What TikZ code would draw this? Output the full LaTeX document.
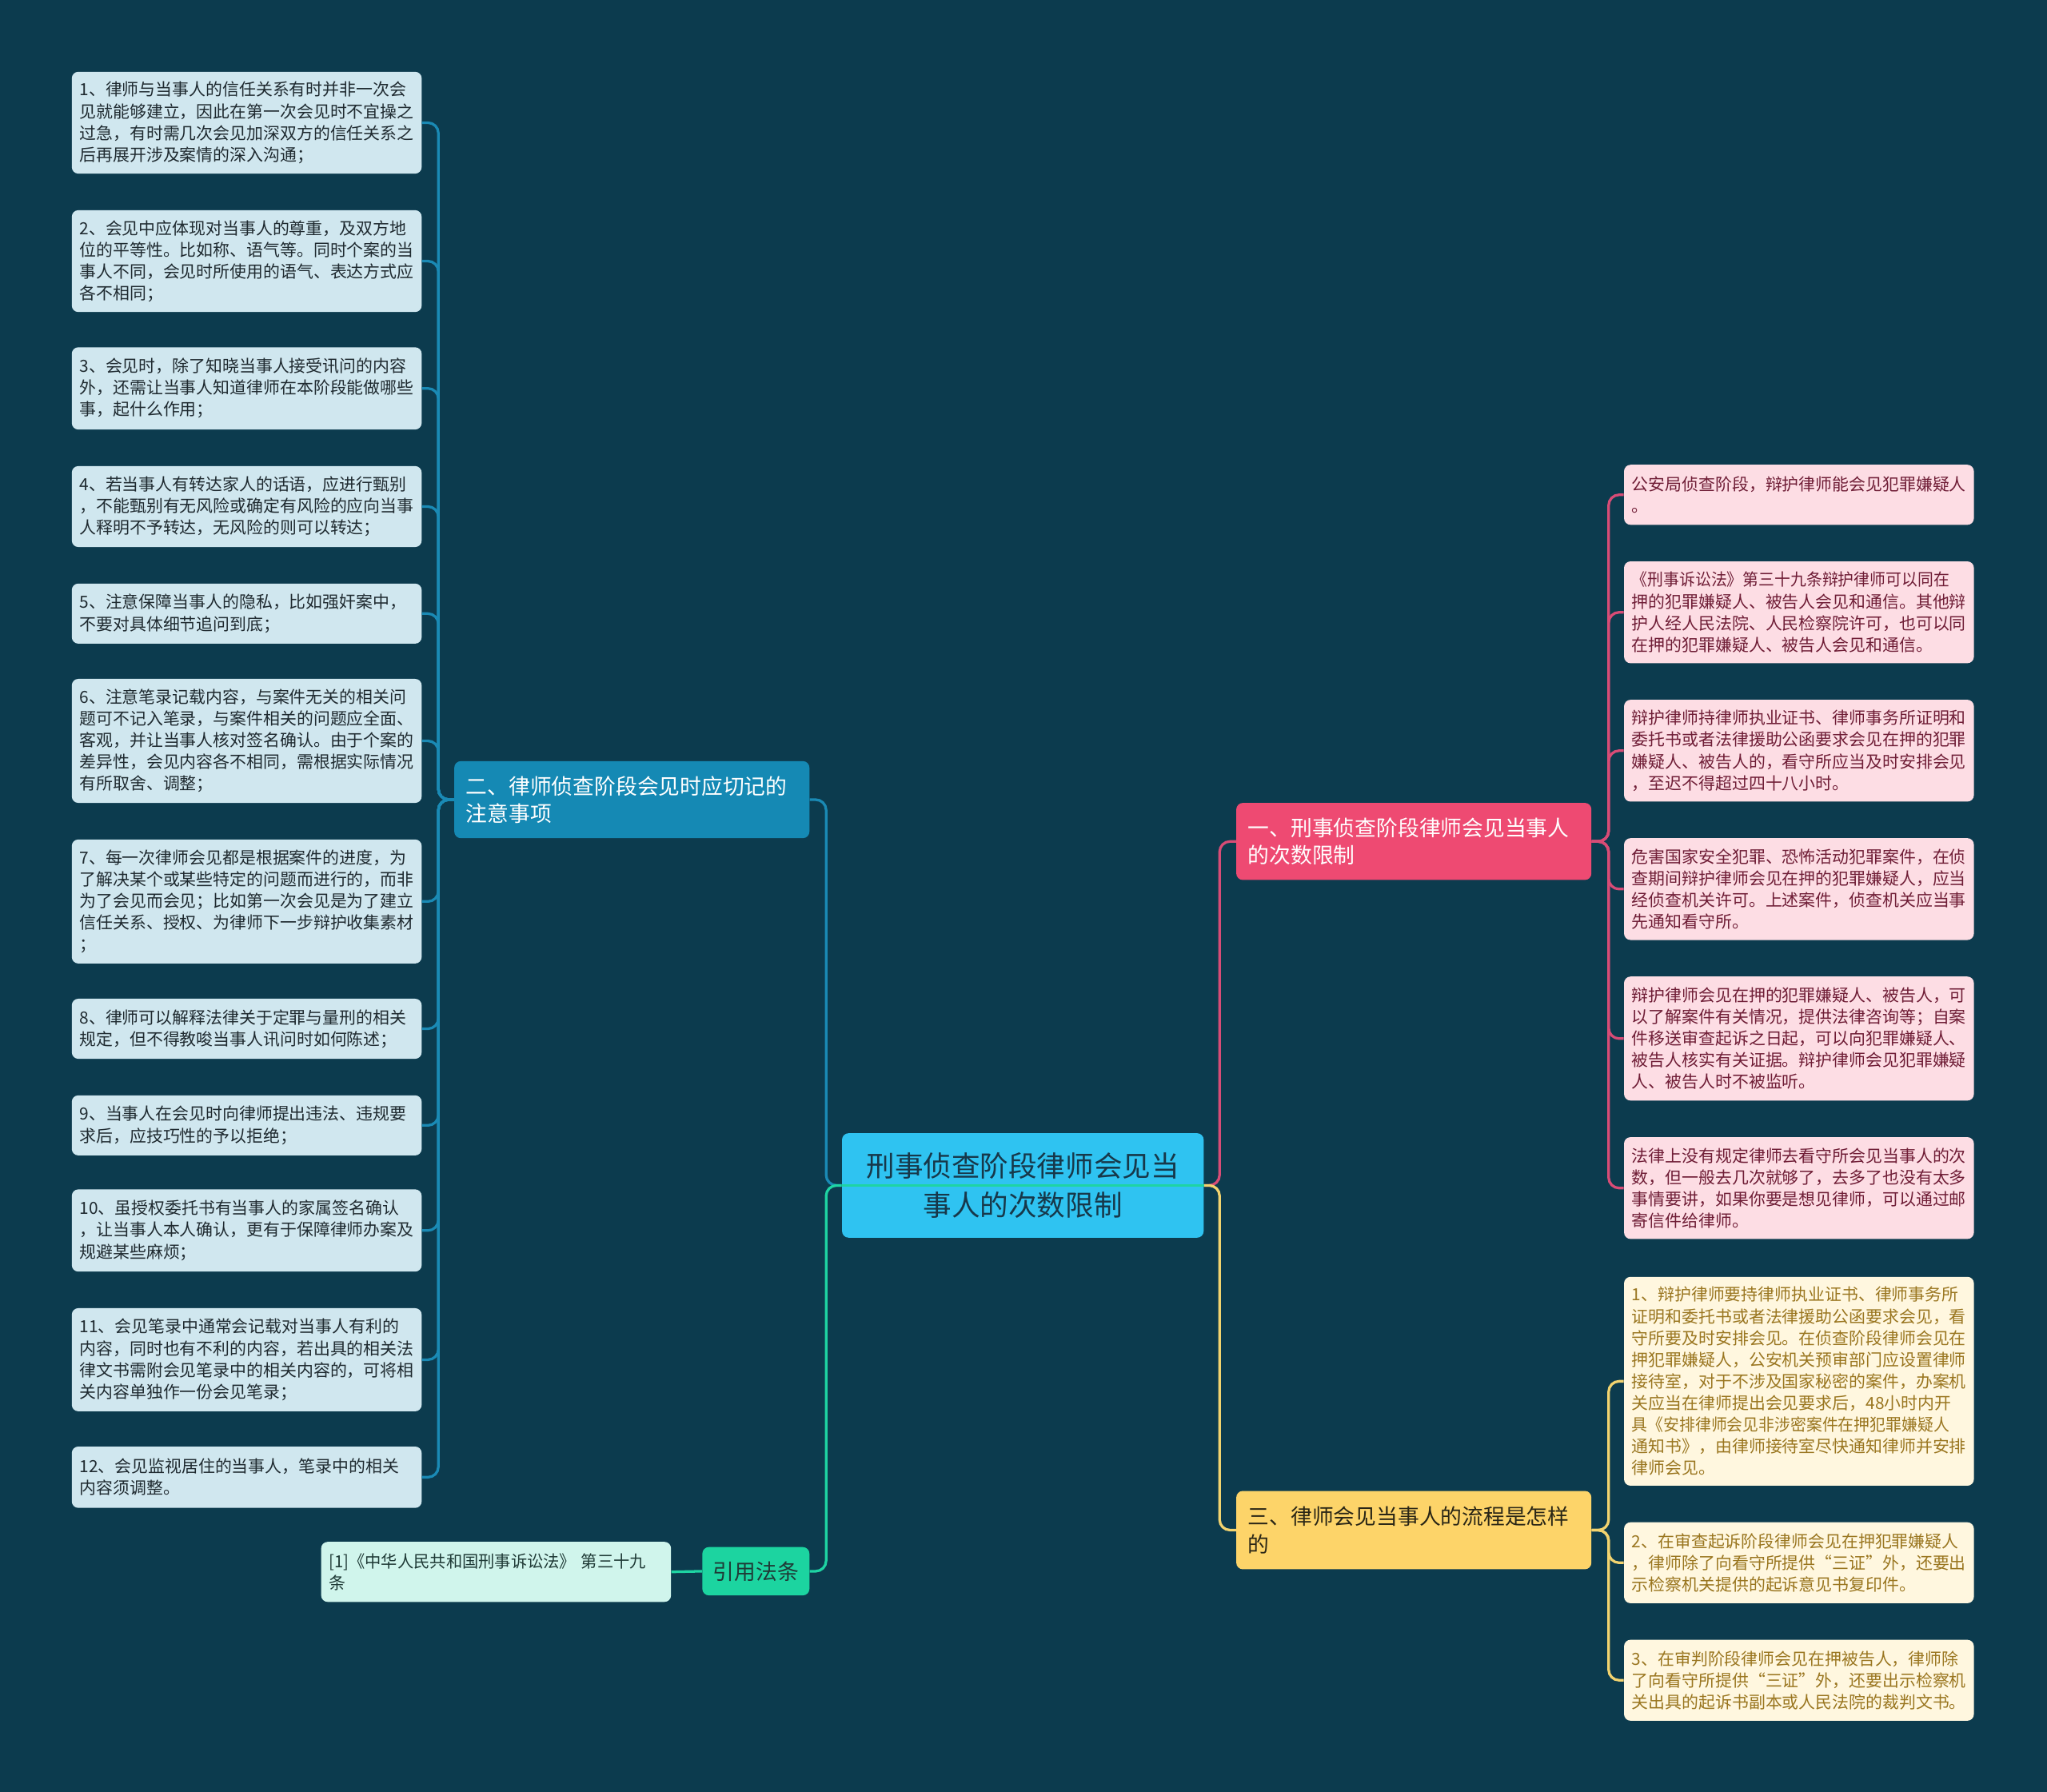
\documentclass[tikz,border=0pt]{standalone}
\usepackage{fontspec}
\setmainfont{Noto Sans CJK SC}
\usepackage{graphicx}
\definecolor{bg}{HTML}{0C3B4E}
\definecolor{centerfill}{HTML}{2FC3F1}
\definecolor{centertext}{HTML}{17384A}
\definecolor{bluefill}{HTML}{1589B4}
\definecolor{pinkfill}{HTML}{EE4A72}
\definecolor{yellowfill}{HTML}{FDD469}
\definecolor{greenfill}{HTML}{1CD4A0}
\definecolor{cblue}{HTML}{1A8AB5}
\definecolor{cpink}{HTML}{D84C76}
\definecolor{cyellow}{HTML}{F2D36F}
\definecolor{cgreen}{HTML}{1ED4A3}
\definecolor{leafblue}{HTML}{D0E7EF}
\definecolor{leafbluetext}{HTML}{1F2A30}
\definecolor{leafpink}{HTML}{FDDDE4}
\definecolor{leafpinktext}{HTML}{6F1D36}
\definecolor{leafyellow}{HTML}{FFF7DF}
\definecolor{leafyellowtext}{HTML}{9A7620}
\definecolor{leafmint}{HTML}{D0F5EC}
\definecolor{leafminttext}{HTML}{1F3A36}
\definecolor{darktext}{HTML}{2A2616}
\newcommand\myleaffont{\fontsize{12.8pt}{16.6pt}\selectfont}
\newcommand\mybranchfont{\fontsize{16.4pt}{21pt}\selectfont}
\newcommand\mycenterfont{\fontsize{21.8pt}{30pt}\selectfont}
\newcommand\sqz[1]{\scalebox{0.95}[1]{#1}}
\tikzset{
  box/.style={rounded corners=5pt, inner ysep=0pt, anchor=center},
  leaf/.style={box, inner xsep=6pt, text width=256pt, align=left, font=\myleaffont},
  leafL/.style={leaf, fill=leafblue, text=leafbluetext},
  leafP/.style={leaf, fill=leafpink, text=leafpinktext},
  leafY/.style={leaf, fill=leafyellow, text=leafyellowtext},
  leafM/.style={leaf, fill=leafmint, text=leafminttext},
  branch/.style={box, inner xsep=9pt, text width=254pt, align=left, font=\mybranchfont, minimum height=59pt},
  conn/.style={line width=2pt, rounded corners=8pt}
}
\begin{document}
\begin{tikzpicture}[x=1pt,y=-1pt]
\fill[bg] (0,0) rectangle (1568,1372.6);

% center
\node[box, fill=centerfill, text=centertext, inner xsep=10pt, text width=257pt, align=center, font=\mycenterfont, minimum height=80pt] (c) at (783.5,908) {刑事侦查阶段律师会见当\\事人的次数限制};

% branches
\node[branch, fill=bluefill, text=white] (b2) at (484,612.5) {二、律师侦查阶段会见时应切记的\\注意事项};
\node[branch, fill=pinkfill, text=white] (b1) at (1083,644.5) {一、刑事侦查阶段律师会见当事人\\的次数限制};
\node[branch, fill=yellowfill, text=darktext, minimum height=60pt] (b3) at (1083,1172) {三、律师会见当事人的流程是怎样\\的};
\node[box, fill=greenfill, text=leafminttext, inner xsep=0pt, minimum width=82pt, minimum height=37pt, font=\mybranchfont] (b4) at (579,1203.5) {引用法条};

% left leaves
\node[leafL, minimum height=78pt] (l1) at (189,94) {1、律师与当事人的信任关系有时并非一次会\\见就能够建立，因此在第一次会见时不宜操之\\过急，有时需几次会见加深双方的信任关系之\\后再展开涉及案情的深入沟通；};
\node[leafL, minimum height=78pt] (l2) at (189,200) {2、会见中应体现对当事人的尊重，及双方地\\位的平等性。比如称、语气等。同时个案的当\\事人不同，会见时所使用的语气、表达方式应\\各不相同；};
\node[leafL, minimum height=63pt] (l3) at (189,297.5) {3、会见时，除了知晓当事人接受讯问的内容\\外，还需让当事人知道律师在本阶段能做哪些\\事，起什么作用；};
\node[leafL, minimum height=62pt] (l4) at (189,388) {4、若当事人有转达家人的话语，应进行甄别\\，不能甄别有无风险或确定有风险的应向当事\\人释明不予转达，无风险的则可以转达；};
\node[leafL, minimum height=46pt] (l5) at (189,470) {5、注意保障当事人的隐私，比如强奸案中，\\不要对具体细节追问到底；};
\node[leafL, minimum height=95pt] (l6) at (189,567.5) {6、注意笔录记载内容，与案件无关的相关问\\题可不记入笔录，与案件相关的问题应全面、\\客观，并让当事人核对签名确认。由于个案的\\差异性，会见内容各不相同，需根据实际情况\\有所取舍、调整；};
\node[leafL, minimum height=95pt] (l7) at (189,690.5) {7、每一次律师会见都是根据案件的进度，为\\了解决某个或某些特定的问题而进行的，而非\\为了会见而会见；比如第一次会见是为了建立\\信任关系、授权、为律师下一步辩护收集素材\\；};
\node[leafL, minimum height=46pt] (l8) at (189,788) {8、律师可以解释法律关于定罪与量刑的相关\\规定，但不得教唆当事人讯问时如何陈述；};
\node[leafL, minimum height=46pt] (l9) at (189,862) {9、当事人在会见时向律师提出违法、违规要\\求后，应技巧性的予以拒绝；};
\node[leafL, minimum height=63pt] (l10) at (189,942.5) {10、虽授权委托书有当事人的家属签名确认\\，让当事人本人确认，更有于保障律师办案及\\规避某些麻烦；};
\node[leafL, minimum height=79pt] (l11) at (189,1041.5) {11、会见笔录中通常会记载对当事人有利的\\内容，同时也有不利的内容，若出具的相关法\\律文书需附会见笔录中的相关内容的，可将相\\关内容单独作一份会见笔录；};
\node[leafL, minimum height=47pt] (l12) at (189,1131.5) {12、会见监视居住的当事人，笔录中的相关\\内容须调整。};

% citation
\node[leafM, minimum height=46pt] (m1) at (380,1204) {\scalebox{0.97}[1]{[1]《中华人民共和国刑事诉讼法》 第三十九}\\条};

% right pink leaves
\node[leafP, minimum height=46pt] (p1) at (1378,379) {公安局侦查阶段，辩护律师能会见犯罪嫌疑人\\。};
\node[leafP, minimum height=78pt] (p2) at (1378,469) {\sqz{《刑事诉讼法》第三十九条辩护律师可以同在}\\押的犯罪嫌疑人、被告人会见和通信。其他辩\\护人经人民法院、人民检察院许可，也可以同\\在押的犯罪嫌疑人、被告人会见和通信。};
\node[leafP, minimum height=78pt] (p3) at (1378,575) {辩护律师持律师执业证书、律师事务所证明和\\委托书或者法律援助公函要求会见在押的犯罪\\嫌疑人、被告人的，看守所应当及时安排会见\\，至迟不得超过四十八小时。};
\node[leafP, minimum height=78pt] (p4) at (1378,681) {危害国家安全犯罪、恐怖活动犯罪案件，在侦\\查期间辩护律师会见在押的犯罪嫌疑人，应当\\经侦查机关许可。上述案件，侦查机关应当事\\先通知看守所。};
\node[leafP, minimum height=95pt] (p5) at (1378,795.5) {辩护律师会见在押的犯罪嫌疑人、被告人，可\\以了解案件有关情况，提供法律咨询等；自案\\件移送审查起诉之日起，可以向犯罪嫌疑人、\\被告人核实有关证据。辩护律师会见犯罪嫌疑\\人、被告人时不被监听。};
\node[leafP, minimum height=78pt] (p6) at (1378,910) {法律上没有规定律师去看守所会见当事人的次\\数，但一般去几次就够了，去多了也没有太多\\事情要讲，如果你要是想见律师，可以通过邮\\寄信件给律师。};

% right yellow leaves
\node[leafY, minimum height=160pt] (y1) at (1378,1058) {1、辩护律师要持律师执业证书、律师事务所\\证明和委托书或者法律援助公函要求会见，看\\守所要及时安排会见。在侦查阶段律师会见在\\押犯罪嫌疑人，公安机关预审部门应设置律师\\接待室，对于不涉及国家秘密的案件，办案机\\关应当在律师提出会见要求后，48小时内开\\\sqz{具《安排律师会见非涉密案件在押犯罪嫌疑人}\\通知书》，由律师接待室尽快通知律师并安排\\律师会见。};
\node[leafY, minimum height=62pt] (y2) at (1378,1197) {2、在审查起诉阶段律师会见在押犯罪嫌疑人\\，律师除了向看守所提供“三证”外，还要出\\示检察机关提供的起诉意见书复印件。};
\node[leafY, minimum height=62pt] (y3) at (1378,1287) {3、在审判阶段律师会见在押被告人，律师除\\了向看守所提供“三证”外，还要出示检察机\\关出具的起诉书副本或人民法院的裁判文书。};

% connectors
\draw[conn, cblue] (c.west) -- ++(-12,0) |- (b2.east);
\draw[conn, cpink] (c.east) -- ++(12,0) |- (b1.west);
\draw[conn, cyellow] (c.east) -- ++(12,0) |- (b3.west);
\foreach \i in {1,...,12} \draw[conn, cblue] (b2.west) -- ++(-12,0) |- (l\i.east);
\foreach \i in {1,...,6} \draw[conn, cpink] (b1.east) -- ++(13,0) |- (p\i.west);
\foreach \i in {1,...,3} \draw[conn, cyellow] (b3.east) -- ++(13,0) |- (y\i.west);
\draw[conn, cgreen] (b4.west) -- (m1.east);
\draw[conn, cgreen] (c.west) -- ++(-12,0) |- (b4.east);
\draw[line width=2pt, cgreen] (c.east) -- (c.west);
\end{tikzpicture}
\end{document}
